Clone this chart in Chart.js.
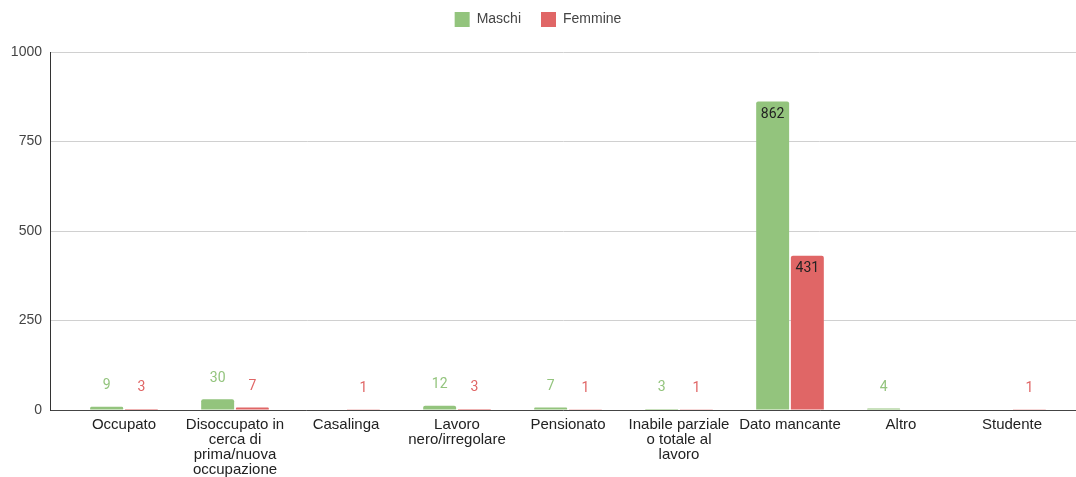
<!DOCTYPE html>
<html>
<head>
<meta charset="utf-8">
<script src="https://cdn.jsdelivr.net/npm/chart.js@4/dist/chart.umd.min.js"></script>
<style>
  body { margin: 0; background: #fff; }
</style>
</head>
<body>
<canvas id="graph" width="1076" height="477"></canvas>
<script>
const categories = [
    'Occupato',
    ['Disoccupato in', 'cerca di', 'prima/nuova', 'occupazione'],
    'Casalinga',
    ['Lavoro', 'nero/irregolare'],
    'Pensionato',
    ['Inabile parziale', 'o totale al', 'lavoro'],
    'Dato mancante',
    'Altro',
    'Studente'
];
const maschi = [9, 30, null, 12, 7, 3, 862, 4, null];
const femmine = [3, 7, 1, 3, 1, 1, 431, null, 1];
const yTicks = [0, 250, 500, 750, 1000];

const green = '#93c47d';
const red = '#e06666';

// google-style annotations: above short bars, inside tall ones
const valueLabels = {
    id: 'valueLabels',
    afterDatasetsDraw(chart) {
        const ctx = chart.ctx;
        ctx.save();
        ctx.font = '14px Roboto';
        ctx.textAlign = 'center';
        ctx.textBaseline = 'middle';
        chart.data.datasets.forEach((ds, di) => {
            chart.getDatasetMeta(di).data.forEach((bar, i) => {
                const v = ds.data[i].y;
                if (v == null) return;
                const h = bar.base - bar.y;
                if (h > 24) {
                    ctx.fillStyle = '#222';
                    ctx.fillText(v, bar.x, bar.y + 13);
                } else {
                    ctx.fillStyle = ds.backgroundColor;
                    ctx.fillText(v, bar.x, bar.y - 21);
                }
            });
        });
        ctx.restore();
    }
};

const legendHeight = {
    id: 'legendHeight',
    beforeInit(chart) {
        const fit = chart.legend.fit;
        chart.legend.fit = function () {
            fit.call(this);
            this.height = 60;
        };
    }
};

const ctx = document.getElementById('graph').getContext('2d');
Chart.defaults.font.family = "'Liberation Sans', Arial, sans-serif";

const myChart = new Chart(ctx, {
    type: 'bar',
    data: {
        datasets: [{
            label: 'Maschi',
            data: maschi.map((v, i) => ({ x: i, y: v })),
            backgroundColor: green,
            borderRadius: 2
        }, {
            label: 'Femmine',
            data: femmine.map((v, i) => ({ x: i, y: v })),
            backgroundColor: red,
            borderRadius: 2
        }]
    },
    options: {
        responsive: false,
        animation: false,
        categoryPercentage: 0.625,
        barPercentage: 0.95,
        layout: { padding: { top: -8, left: 0, right: 0, bottom: 0 } },
        plugins: {
            legend: {
                position: 'top',
                labels: {
                    boxWidth: 15,
                    boxHeight: 15,
                    padding: 20,
                    color: '#444',
                    font: { size: 14 }
                }
            },
            tooltip: { enabled: false }
        },
        scales: {
            x: {
                type: 'linear',
                offset: false,
                min: -0.6667,
                max: 8.5766,
                afterFit(s) { s.height = 67; },
                afterBuildTicks(s) { s.ticks = categories.map((_, i) => ({ value: i })); },
                grid: { display: false, drawTicks: false, offset: false },
                border: { display: true, color: '#444', width: 1 },
                ticks: {
                    autoSkip: false,
                    maxRotation: 0,
                    minRotation: 0,
                    padding: 7,
                    color: '#222',
                    font: { size: 15, lineHeight: '15px' },
                    callback: (v) => categories[v]
                }
            },
            y: {
                min: 0,
                max: 1000,
                afterFit(s) { s.width = 50; },
                afterBuildTicks(s) { s.ticks = yTicks.map(v => ({ value: v })); },
                grid: { color: '#d0d0d0', drawTicks: false },
                border: { display: true, color: '#333', width: 1 },
                ticks: {
                    padding: 8,
                    color: '#444',
                    font: { size: 14 },
                    callback: (v) => String(v)
                }
            }
        }
    },
    plugins: [valueLabels, legendHeight]
});
</script>
</body>
</html>
